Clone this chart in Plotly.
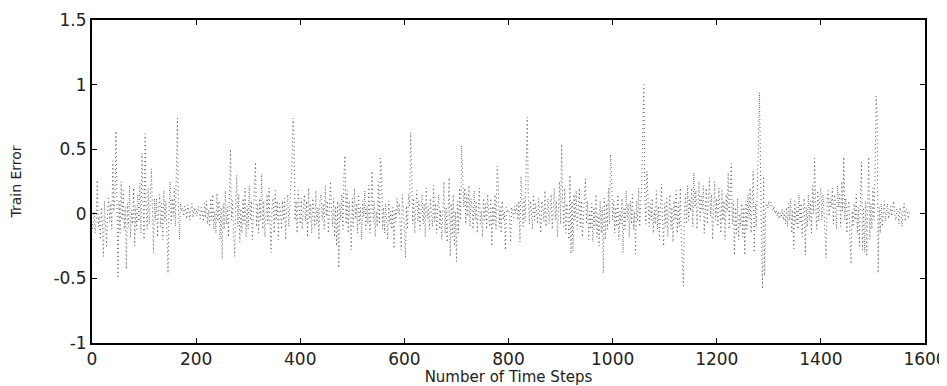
import plotly.graph_objects as go

STEP = 2
err_0000 = [-0.08, -0.12, 0.02, -0.15, -0.05, 0.26, -0.1, -0.02, -0.2, 0.05,
            -0.08, -0.33, 0.1, -0.04, -0.25, 0.03, 0.12, -0.06, 0.08, -0.12,
            0.41, 0.02, 0.15, 0.64, 0.05, -0.5, 0.1, -0.15, 0.25, -0.05,
            0.18, -0.12, 0.05, -0.43, 0.08, -0.1, 0.22, -0.18, 0.03, -0.08,
            0.2, -0.25, 0.06, -0.12, 0.15, -0.06, 0.24, -0.15, 0.47, -0.02,
            -0.2, 0.62, 0.04, -0.12, 0.2, -0.08, 0.1, 0.35, 0.06, -0.3,
            0.12, -0.05, 0.12, -0.18, 0.03, 0.15, -0.1, 0.08, -0.2, 0.18,
            -0.06, 0.1, -0.15, -0.46, 0.05, 0.25, -0.08, 0.12, -0.02, 0.2,
            -0.1, 0.3, 0.74, 0.05, -0.2, 0.08, 0.02, 0.05, -0.02, 0.06,
            0.03, -0.04, 0.07, 0.02, -0.05, 0.04, 0.08, -0.03, 0.05, 0.0]
err_0200 = [0.04, -0.02, 0.06, 0.01, -0.04, 0.05, 0.0, -0.06, 0.08, -0.03,
            0.1, -0.08, 0.03, -0.1, 0.12, -0.05, 0.15, -0.12, 0.02, -0.15,
            0.16, -0.06, 0.1, -0.2, 0.05, -0.35, 0.08, -0.12, 0.18, -0.08,
            0.05, -0.18, 0.12, 0.5, -0.05, 0.1, -0.15, -0.33, 0.05, 0.3,
            -0.1, 0.15, -0.22, 0.04, -0.15, 0.12, -0.08, 0.2, -0.18, 0.06,
            -0.12, 0.22, -0.05, 0.1, -0.2, 0.03, 0.15, 0.4, -0.1, 0.08,
            -0.15, 0.12, -0.05, 0.31, -0.12, 0.1, -0.18, 0.05, 0.15, -0.08,
            0.2, -0.1, -0.3, 0.06, 0.12, -0.15, 0.18, -0.05, 0.1, -0.2,
            0.08, 0.02, -0.12, 0.1, -0.05, 0.12, -0.2, 0.05, 0.15, -0.1,
            0.08, 0.2, 0.38, 0.74, 0.6, -0.05, 0.1, -0.15, 0.18, 0.05]
err_0400 = [-0.08, 0.12, -0.12, 0.05, 0.15, -0.06, 0.1, -0.18, 0.2, -0.04,
            0.08, -0.15, 0.12, 0.02, -0.1, 0.18, -0.08, 0.05, -0.2, 0.1,
            0.15, -0.05, 0.08, -0.12, 0.22, -0.02, 0.1, -0.15, 0.05, 0.25,
            0.02, -0.1, 0.12, -0.18, 0.06, -0.25, 0.1, -0.42, 0.08, -0.05,
            0.15, -0.12, 0.3, 0.45, -0.08, 0.18, -0.15, 0.1, -0.06, -0.28,
            0.12, -0.1, 0.2, -0.04, 0.08, -0.15, 0.15, -0.08, 0.05, -0.2,
            0.1, -0.02, 0.18, -0.12, 0.06, -0.08, 0.22, -0.15, 0.04, 0.33,
            -0.06, 0.1, -0.18, 0.02, -0.1, 0.25, -0.08, 0.43, 0.37, -0.12,
            0.05, -0.15, 0.08, -0.05, -0.2, 0.1, -0.08, 0.02, -0.12, 0.05,
            -0.27, 0.03, -0.06, 0.12, 0.0, 0.08, -0.1, -0.28, 0.15, 0.05]
err_0600 = [-0.1, -0.34, 0.06, -0.12, 0.15, 0.05, 0.63, 0.33, -0.08, 0.12,
            -0.15, 0.05, 0.18, -0.06, 0.1, -0.12, 0.02, 0.15, -0.08, 0.08,
            -0.18, 0.2, -0.04, 0.06, -0.12, 0.12, 0.0, -0.1, 0.22, -0.06,
            0.08, -0.15, 0.05, 0.15, -0.12, 0.03, -0.2, 0.1, 0.25, -0.15,
            0.05, -0.22, 0.12, 0.28, -0.33, 0.08, -0.18, 0.15, -0.25, 0.02,
            -0.37, 0.1, -0.15, 0.2, -0.05, 0.53, 0.3, 0.05, 0.2, -0.08,
            0.15, -0.02, 0.22, -0.1, 0.12, 0.05, -0.12, 0.18, -0.05, 0.1,
            -0.15, 0.08, 0.2, -0.08, 0.02, -0.18, 0.12, -0.05, 0.08, -0.12,
            0.15, 0.0, -0.1, 0.12, -0.25, 0.06, -0.08, 0.15, -0.12, 0.37,
            0.28, -0.1, 0.05, -0.15, 0.1, -0.05, 0.02, -0.28, 0.05, 0.02]
err_0800 = [0.03, -0.02, -0.22, 0.05, 0.02, -0.03, 0.06, 0.0, 0.08, -0.05,
            0.1, -0.22, 0.29, 0.05, -0.1, 0.12, -0.06, 0.38, 0.75, 0.15,
            -0.08, 0.1, 0.02, -0.12, 0.15, -0.05, 0.08, 0.02, -0.08, 0.12,
            0.0, -0.15, 0.1, 0.05, -0.06, 0.18, -0.1, 0.04, 0.12, -0.08,
            0.02, 0.15, -0.12, 0.08, 0.2, -0.05, 0.1, -0.18, 0.05, 0.25,
            -0.08, 0.54, 0.12, -0.1, 0.2, -0.15, 0.08, 0.02, -0.2, 0.3,
            -0.31, 0.1, -0.29, 0.15, -0.05, 0.18, -0.12, 0.06, 0.2, -0.1,
            0.1, -0.18, 0.05, 0.15, 0.27, -0.08, 0.1, -0.2, 0.02, -0.12,
            0.08, -0.22, 0.05, -0.1, 0.15, -0.18, 0.0, -0.25, 0.1, -0.15,
            0.05, -0.46, 0.12, -0.2, 0.08, -0.12, 0.2, -0.08, 0.46, 0.3]
err_1000 = [-0.05, 0.1, -0.15, 0.05, -0.1, 0.15, -0.2, 0.02, -0.08, 0.12,
            -0.3, 0.05, -0.12, 0.18, -0.05, 0.08, -0.18, 0.1, -0.08, 0.15,
            -0.12, 0.02, -0.31, 0.1, -0.06, 0.2, -0.1, 0.05, 0.25, 0.65,
            1.0, 0.1, -0.08, 0.33, 0.05, -0.1, 0.08, -0.05, 0.12, -0.15,
            0.03, -0.08, 0.18, -0.12, 0.06, -0.2, 0.1, 0.23, -0.05, -0.25,
            0.08, -0.1, 0.12, -0.18, 0.02, 0.15, -0.12, 0.05, -0.22, 0.1,
            -0.05, 0.18, -0.15, 0.08, -0.1, 0.2, -0.2, -0.45, -0.56, 0.05,
            0.15, -0.08, 0.22, -0.05, 0.12, 0.02, 0.2, -0.1, 0.32, 0.05,
            0.18, -0.12, 0.1, 0.25, -0.05, 0.15, 0.02, 0.22, -0.15, 0.08,
            0.2, -0.08, 0.12, 0.28, -0.02, 0.15, -0.2, 0.1, 0.25, -0.05]
err_1200 = [0.12, -0.1, 0.2, 0.05, -0.15, 0.18, -0.05, 0.1, -0.2, 0.15,
            0.02, 0.32, -0.12, 0.2, 0.39, -0.08, 0.1, -0.32, 0.05, -0.15,
            0.12, -0.2, 0.0, -0.1, 0.08, -0.18, 0.05, -0.32, 0.1, -0.12,
            0.15, -0.05, 0.2, -0.15, 0.05, 0.33, -0.3, 0.08, -0.1, 0.15,
            0.55, 0.94, 0.2, -0.2, -0.58, 0.29, -0.48, 0.05, 0.08, 0.04,
            0.1, 0.06, 0.09, 0.05, 0.02, 0.06, 0.0, 0.03, -0.02, 0.02,
            -0.04, 0.01, -0.03, 0.04, -0.05, 0.02, -0.08, 0.05, -0.1, 0.08,
            -0.05, 0.12, -0.15, 0.03, -0.27, 0.1, -0.08, 0.05, -0.12, 0.15,
            -0.06, 0.08, -0.18, 0.02, 0.12, -0.32, 0.05, -0.1, 0.15, -0.05,
            0.1, -0.15, 0.22, 0.0, 0.43, 0.05, -0.12, 0.18, -0.06, 0.12]
err_1400 = [0.2, -0.05, 0.15, 0.02, -0.15, -0.34, 0.1, 0.18, -0.02, 0.12,
            0.05, 0.2, -0.08, 0.15, 0.08, -0.12, 0.22, 0.05, 0.15, -0.1,
            0.25, 0.02, 0.44, -0.05, 0.12, -0.15, 0.05, 0.1, -0.2, -0.39,
            0.02, -0.1, 0.08, -0.05, 0.15, -0.15, 0.05, -0.25, 0.12, 0.4,
            -0.28, 0.05, -0.3, 0.1, -0.33, 0.15, 0.44, -0.2, 0.08, -0.12,
            0.2, -0.05, 0.3, 0.91, 0.78, -0.46, 0.05, -0.15, 0.08, -0.1,
            0.05, 0.1, -0.06, 0.02, 0.08, -0.04, 0.03, 0.06, -0.02, 0.05,
            0.1, 0.0, -0.05, 0.04, 0.02, -0.08, 0.05, 0.0, -0.1, 0.03,
            0.08, -0.06, 0.04, 0.02, -0.04, 0.01]

train_error = (err_0000 + err_0200 + err_0400 + err_0600 +
               err_0800 + err_1000 + err_1200 + err_1400)
time_steps = list(range(0, STEP * len(train_error), STEP))

x_ticks = [0, 200, 400, 600, 800, 1000, 1200, 1400, 1600]
y_ticks = [-1, -0.5, 0, 0.5, 1, 1.5]
y_tick_text = ["-1", "-0.5", "0", "0.5", "1", "1.5"]

fig = go.Figure()
fig.add_trace(go.Scatter(
    x=time_steps, y=train_error, mode="lines",
    line=dict(color="#5a5a5a", width=1, dash="1px,3px"),
    hoverinfo="skip", showlegend=False,
))

axis_common = dict(
    showline=True, linecolor="black", linewidth=2, mirror="ticks",
    ticks="inside", ticklen=5, tickwidth=1, tickcolor="black",
    showgrid=False, zeroline=False, automargin=False,
    tickfont=dict(family="DejaVu Sans", size=17, color="#222"),
)

# page body adds an 8px offset, so the figure is sized to fit the window
fig.update_layout(
    width=939, height=378,
    margin=dict(l=84, r=22, t=12, b=43),
    paper_bgcolor="white", plot_bgcolor="white",
    xaxis=dict(range=[0, 1600], tickvals=x_ticks,
               title=dict(text="Number of Time Steps", standoff=5,
                          font=dict(family="DejaVu Sans", size=15, color="#222")),
               **axis_common),
    yaxis=dict(range=[-1, 1.5], tickvals=y_ticks, ticktext=y_tick_text,
               title=dict(text="Train Error", standoff=29,
                          font=dict(family="DejaVu Sans", size=14, color="#222")),
               **axis_common),
)

fig.write_html("out.html")
